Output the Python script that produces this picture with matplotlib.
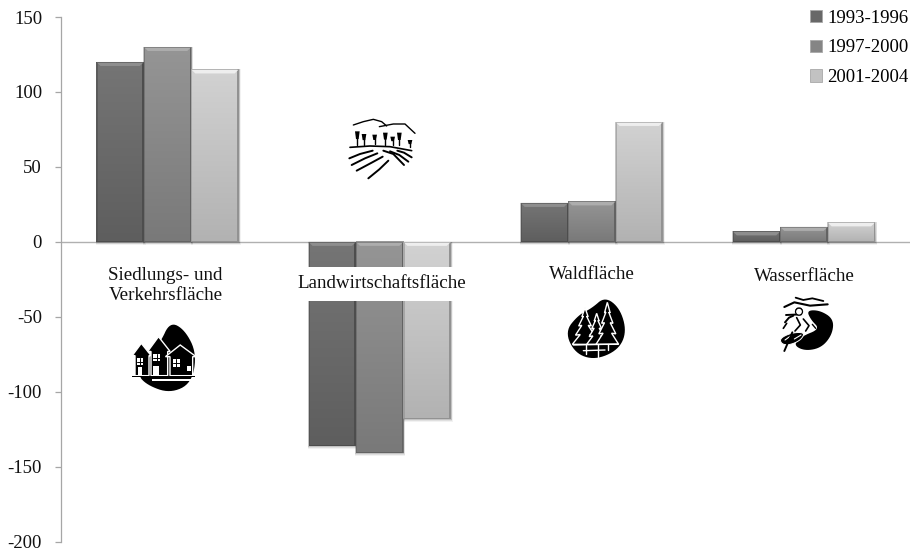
"""Land use change per period, grey bevelled bars with pictograms."""

import numpy as np
import matplotlib

matplotlib.use("Agg")
import matplotlib.pyplot as plt
from matplotlib.patches import Polygon, Rectangle, Circle, Patch

plt.rcParams["font.family"] = ["Liberation Serif", "DejaVu Serif"]

categories = [
    "Siedlungs- und\nVerkehrsfläche",
    "Landwirtschaftsfläche",
    "Waldfläche",
    "Wasserfläche",
]
periods = ["1993-1996", "1997-2000", "2001-2004"]
values_1993 = [120, -136, 26, 7]
values_1997 = [130, -141, 27, 10]
values_2001 = [115, -118, 80, 13]
y_ticks = [-200, -150, -100, -50, 0, 50, 100, 150]

# top colour, bottom colour, bevel colour, legend colour for each period
bar_styles = [
    ("#757575", "#5e5e5e", "#8e8e8e", "#686868"),
    ("#959595", "#797979", "#adadad", "#858585"),
    ("#d2d2d2", "#b2b2b2", "#eeeeee", "#c2c2c2"),
]
W = 910
H = 551


def chaikin(pts, rounds=3):
    """Round off a closed polygon by cutting its corners."""
    pts = np.array(pts, dtype=float)
    for _ in range(rounds):
        nxt = np.roll(pts, -1, axis=0)
        pts = np.column_stack(
            [0.75 * pts + 0.25 * nxt, 0.25 * pts + 0.75 * nxt]
        ).reshape(-1, 2)
    return pts


def bevel_bar(ax, bar, top, bottom, bevel):
    """Paints gradient, bevel and soft shadow over a plain bar."""
    x0 = bar.get_x()
    x1 = x0 + bar.get_width()
    y_lo = min(bar.get_y(), bar.get_y() + bar.get_height())
    y_hi = max(bar.get_y(), bar.get_y() + bar.get_height())
    dx = 1.0 / 212.5
    dy = 1.0 / 1.5

    # soft shadow, offset downwards
    for i, alpha in zip([3.0, 2.0, 1.0], [0.05, 0.08, 0.12]):
        ax.add_patch(
            Rectangle(
                (x0 - 0.5 * dx, y_lo - i * dy),
                x1 - x0 + (1.0 + i * 0.5) * dx,
                y_hi - y_lo + i * dy,
                fc="black",
                ec="none",
                alpha=alpha,
                zorder=2,
            )
        )

    c_top = np.array(matplotlib.colors.to_rgb(top))
    c_bot = np.array(matplotlib.colors.to_rgb(bottom))
    steps = np.linspace(0, 1, 64)[:, None]
    grad = (c_top * (1 - steps) + c_bot * steps)[:, None, :]
    ax.imshow(
        grad,
        extent=[x0, x1, y_lo, y_hi],
        aspect="auto",
        zorder=3,
        interpolation="bilinear",
    )

    # darker edges left, right and bottom
    edge = tuple(c_bot * 0.82)
    ax.add_patch(Rectangle((x0, y_lo), 1.2 * dx, y_hi - y_lo, fc=edge, ec="none", alpha=0.6, zorder=4))
    ax.add_patch(Rectangle((x1 - 1.5 * dx, y_lo), 1.5 * dx, y_hi - y_lo, fc=edge, ec="none", zorder=4))
    ax.add_patch(Rectangle((x0, y_lo), x1 - x0, 1.2 * dy, fc=edge, ec="none", zorder=4))

    # bevel along the top
    ax.add_patch(
        Polygon(
            [
                (x0, y_hi),
                (x1, y_hi),
                (x1 - 4 * dx, y_hi - 4 * dy),
                (x0 + 4 * dx, y_hi - 4 * dy),
            ],
            fc=bevel,
            ec="none",
            zorder=5,
        )
    )
    ax.add_patch(Rectangle((x0, y_hi - dy), x1 - x0, dy, fc=edge, ec="none", alpha=0.55, zorder=5))


def shape(ax, pts, origin, fc="black", smooth=False, ec="none", lw=0, z=1):
    """Filled icon shape, pts are read in 3x zoom pixels from origin."""
    pts = np.array(pts, dtype=float) / 3.0 + origin
    if smooth:
        pts = chaikin(pts)
    ax.add_patch(Polygon(pts, fc=fc, ec=ec, lw=lw, zorder=z))


def stroke(ax, pts, origin, lw=1.2, color="black", z=2):
    pts = np.array(pts, dtype=float) / 3.0 + origin
    ax.plot(pts[:, 0], pts[:, 1], color=color, lw=lw, solid_capstyle="round", zorder=z)


def box(ax, origin, x, y, w, h, fc="white", z=4):
    shape(ax, [(x, y), (x + w, y), (x + w, y + h), (x, y + h)], origin, fc=fc, z=z)


def draw_house(ax, origin, x, y, w, h, bottom):
    """One black terrace house with white outline and cross window."""
    eave = y + 0.38 * (bottom - y)
    pts = [
        (x, bottom),
        (x, eave),
        (x - 0.2 * w, eave),
        (x + 0.45 * w, y),
        (x + 1.15 * w, eave),
        (x + w, eave),
        (x + w, bottom),
    ]
    shape(ax, pts, origin, ec="white", lw=1.0, z=3)
    wx = x + 0.12 * w
    wy = eave + 8
    box(ax, origin, wx, wy, h, h)
    stroke(ax, [(wx + h / 2, wy), (wx + h / 2, wy + h)], origin, lw=0.7, z=5)
    stroke(ax, [(wx, wy + h / 2), (wx + h, wy + h / 2)], origin, lw=0.7, z=5)


def draw_pine(ax, origin, cx, top, bottom, half):
    """Zigzag pine tree, black with white outline."""
    levels = 4
    right = []
    for i in range(levels):
        frac = (i + 1) / levels
        y = top + (bottom - top) * frac
        right += [(cx + half * frac, y)]
        if i < levels - 1:
            right += [(cx + half * frac * 0.5, y - 2)]
    left = [(2 * cx - px, py) for px, py in right]
    shape(ax, [(cx, top)] + right + left[::-1], origin, ec="white", lw=1.0, z=3)


def draw_icons(ax):
    # houses
    o = np.array([120, 310])
    shape(ax, [(150, 35), (195, 60), (230, 130), (215, 220), (150, 250), (80, 225), (50, 190), (120, 100)], o, smooth=True)
    draw_house(ax, o, 45, 100, 42, 20, 197)
    draw_house(ax, o, 93, 80, 50, 22, 197)
    draw_house(ax, o, 150, 105, 68, 22, 197)
    box(ax, o, 100, 168, 18, 29)
    box(ax, o, 200, 168, 14, 16)
    box(ax, o, 55, 172, 12, 25)
    shape(ax, [(35, 197), (225, 197), (225, 202), (35, 202)], o, z=4)
    box(ax, o, 95, 207, 130, 6)

    # fields and trees
    o = np.array([340, 110])
    stroke(ax, [(40, 45), (70, 35), (100, 28), (125, 35), (140, 48)], o, lw=1.0)
    stroke(ax, [(118, 50), (160, 42), (195, 42), (225, 70)], o, lw=1.0)
    stroke(ax, [(30, 112), (90, 108), (150, 110), (215, 122)], o, lw=1.2)
    for tx, ty, th in [
        (52, 62, 42), (72, 70, 34), (104, 72, 30), (136, 66, 38),
        (158, 78, 26), (178, 66, 40), (210, 88, 24),
    ]:
        stroke(ax, [(tx, ty + th * 0.5), (tx, ty + th)], o, lw=1.0)
        shape(ax, [(tx - 7, ty + 2), (tx + 7, ty + 2), (tx + 4, ty + th * 0.6), (tx - 4, ty + th * 0.6)], o)
    for pts in [
        [(28, 145), (60, 132), (98, 122)],
        [(35, 165), (75, 145), (112, 130)],
        [(50, 182), (95, 158), (128, 140)],
        [(85, 205), (118, 178), (145, 152)],
        [(130, 122), (160, 132), (192, 165)],
        [(150, 124), (178, 135), (205, 155)],
        [(172, 122), (192, 128), (215, 142)],
    ]:
        stroke(ax, pts, o, lw=1.4)

    # forest
    o = np.array([555, 295])
    shape(ax, [(150, 5), (195, 40), (215, 110), (190, 165), (120, 195), (60, 175), (30, 110), (70, 60), (110, 40)], o, smooth=True)
    draw_pine(ax, o, 90, 38, 148, 38)
    draw_pine(ax, o, 125, 55, 148, 30)
    draw_pine(ax, o, 157, 22, 148, 34)
    for pts in [
        [(55, 150), (188, 147)],
        [(85, 167), (150, 165)],
        [(92, 150), (92, 178)],
        [(130, 148), (130, 185)],
        [(160, 147), (160, 165)],
    ]:
        stroke(ax, pts, o, lw=1.0, color="white", z=5)

    # water
    o = np.array([775, 295])
    shape(ax, [(95, 46), (135, 46), (176, 72), (172, 118), (140, 158), (90, 168), (55, 150), (80, 124), (135, 102), (108, 75)], o, smooth=True)
    ax.add_patch(Circle(o + np.array([72, 50]) / 3.0, 3.5, fc="white", ec="black", lw=0.9, zorder=3))
    shape(ax, [(60, 46), (84, 46), (78, 38), (66, 38)], o)
    stroke(ax, [(62, 8), (85, 15), (112, 10), (145, 18)], o, lw=1.3)
    stroke(ax, [(28, 36), (58, 22), (105, 32), (158, 28)], o, lw=1.5)
    stroke(ax, [(33, 60), (78, 58)], o, lw=1.4)
    stroke(ax, [(30, 82), (42, 68), (55, 62)], o, lw=1.4)
    stroke(ax, [(25, 100), (35, 85)], o, lw=1.2)
    stroke(ax, [(65, 68), (76, 90), (60, 108)], o, lw=1.2)
    stroke(ax, [(85, 72), (102, 92), (92, 108)], o, lw=1.2)
    stroke(ax, [(112, 88), (122, 100)], o, lw=1.0)
    shape(ax, [(14, 130), (50, 113), (90, 112), (78, 135), (45, 150), (20, 148)], o, smooth=True, ec="white", lw=0.7, z=4)
    stroke(ax, [(30, 135), (48, 122)], o, lw=0.8, color="white", z=5)
    stroke(ax, [(58, 132), (78, 120)], o, lw=0.8, color="white", z=5)
    stroke(ax, [(28, 168), (52, 112)], o, lw=1.4, z=6)


fig = plt.figure(figsize=(W / 100, H / 100), dpi=100)
ax = fig.add_axes([61.5 / W, 1 - 541.7 / H, (W - 61.5) / W, 524.7 / H])

positions = np.arange(len(categories))
bar_width = 47.5 / 212.5
all_values = [values_1993, values_1997, values_2001]
handles = []
for k, vals in enumerate(all_values):
    top, bottom, bevel, swatch = bar_styles[k]
    bars = ax.bar(
        positions + (k - 1) * bar_width,
        vals,
        bar_width,
        color=top,
        zorder=1,
    )
    for bar in bars:
        bevel_bar(ax, bar, top, bottom, bevel)
    handles.append(Patch(fc=swatch, ec="#a8a8a8", lw=0.6, label=periods[k]))

ax.set_xlim(-0.5, 3.5)
ax.set_ylim(-200, 150)
ax.set_yticks(y_ticks)
ax.set_yticklabels([str(t) for t in y_ticks], fontsize=13.5, color="#111111")
ax.set_xticks([])
ax.tick_params(axis="y", length=4.5, width=0.9, color="#a6a6a6", pad=9.5)
for side in ("top", "right", "bottom"):
    ax.spines[side].set_visible(False)
ax.spines["left"].set_color("#a6a6a6")
ax.spines["left"].set_linewidth(0.9)
ax.axhline(0, color="#b0b0b0", lw=1.0, zorder=1.5)

label_style = dict(ha="center", va="center", fontsize=13.7, color="#111111", zorder=8)
ax.text(-0.01, -29, categories[0], linespacing=1.2, **label_style)
ax.text(1.01, -28, categories[1], bbox=dict(fc="white", ec="none", pad=6), **label_style)
ax.text(2.0, -22, categories[2], **label_style)
ax.text(3.0, -23, categories[3], **label_style)

ax.legend(
    handles=handles,
    loc="upper right",
    bbox_to_anchor=(0.9985, 1.014),
    frameon=False,
    fontsize=13.5,
    handlelength=0.64,
    handleheight=0.64,
    handletextpad=0.3,
    labelspacing=0.68,
    borderpad=0.0,
    borderaxespad=0.0,
)

icons = fig.add_axes([0, 0, 1, 1], zorder=5)
icons.axis("off")
icons.patch.set_alpha(0)
draw_icons(icons)
icons.set_xlim(0, W)
icons.set_ylim(H, 0)

fig.savefig("out.png", dpi=100)
